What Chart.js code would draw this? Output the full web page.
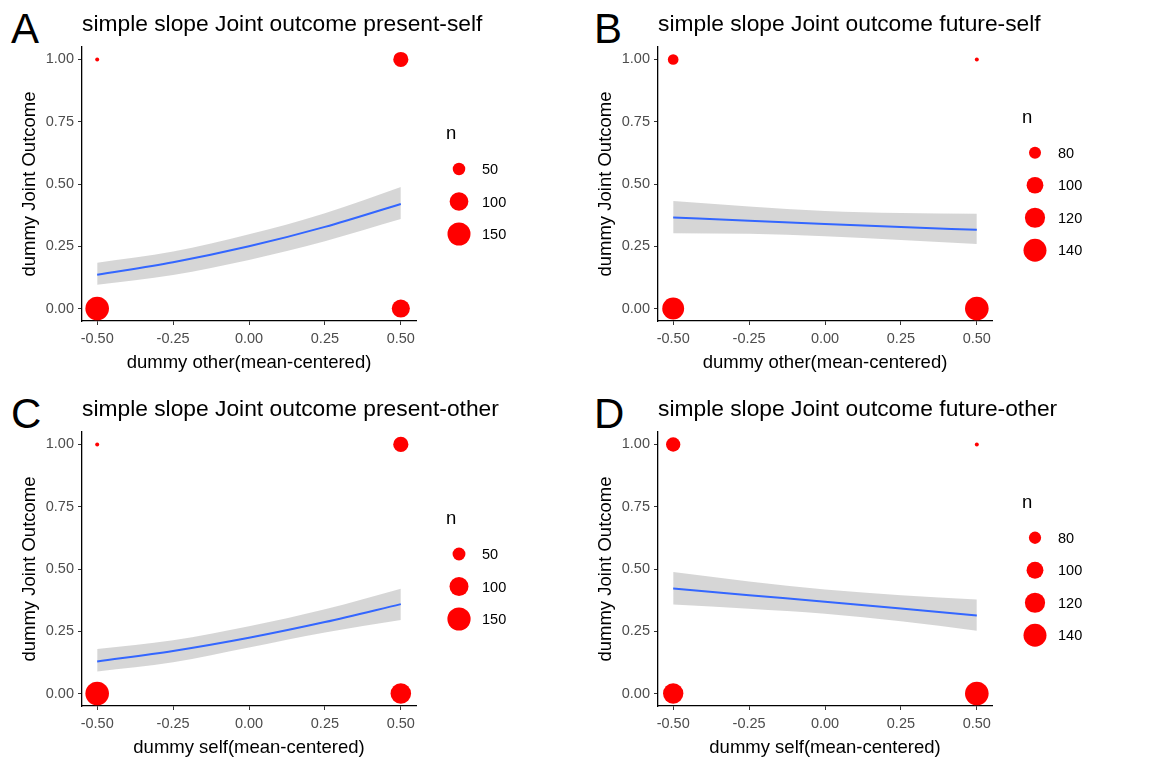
<!DOCTYPE html>
<html>
<head>
<meta charset="utf-8">
<script src="https://cdn.jsdelivr.net/npm/chart.js@4.4.1/dist/chart.umd.min.js"></script>
<style>
  body { margin: 0; background: #fff; width: 1155px; height: 760px; position: relative; overflow: hidden; }
  .panel { position: absolute; width: 577px; height: 375px; }
  .tag { position: absolute; font: 42px "Liberation Sans", Arial, sans-serif; line-height: 42px; color: #000; }
</style>
</head>
<body>
<div class="tag" style="left:11px;top:8px">A</div>
<div class="tag" style="left:594px;top:8px">B</div>
<div class="tag" style="left:11px;top:393px">C</div>
<div class="tag" style="left:594px;top:393px">D</div>
<div class="panel" style="left:0;top:0"><canvas id="chartA" width="577" height="375"></canvas></div>
<div class="panel" style="left:576px;top:0"><canvas id="chartB" width="577" height="375"></canvas></div>
<div class="panel" style="left:0;top:385px"><canvas id="chartC" width="577" height="375"></canvas></div>
<div class="panel" style="left:576px;top:385px"><canvas id="chartD" width="577" height="375"></canvas></div>

<script>
// shared axes
const xTicks = [-0.5, -0.25, 0, 0.25, 0.5];
const yTicks = [0, 0.25, 0.5, 0.75, 1];
const fitX = [-0.5, -0.25, 0, 0.25, 0.5];
const pointX = [-0.5, -0.5, 0.5, 0.5];
const pointY = [0, 1, 0, 1];
const yTitle = 'dummy Joint Outcome';

// A: present-self
const titleA = 'simple slope Joint outcome present-self';
const xTitleA = 'dummy other(mean-centered)';
const fitA = [0.136, 0.186, 0.250, 0.328, 0.420];
const lowA = [0.096, 0.135, 0.195, 0.270, 0.359];
const highA = [0.184, 0.229, 0.298, 0.383, 0.488];
const countA = [158, 25, 94, 68];
const breaksA = [50, 100, 150];

// B: future-self
const titleB = 'simple slope Joint outcome future-self';
const xTitleB = 'dummy other(mean-centered)';
const fitB = [0.366, 0.352, 0.339, 0.327, 0.316];
const lowB = [0.302, 0.300, 0.290, 0.275, 0.259];
const highB = [0.432, 0.410, 0.392, 0.384, 0.381];
const countB = [132, 76, 145, 67];
const breaksB = [80, 100, 120, 140];

// C: present-other
const titleC = 'simple slope Joint outcome present-other';
const xTitleC = 'dummy self(mean-centered)';
const fitC = [0.129, 0.171, 0.224, 0.287, 0.359];
const lowC = [0.089, 0.126, 0.185, 0.245, 0.295];
const highC = [0.179, 0.214, 0.270, 0.338, 0.421];
const countC = [155, 23, 117, 66];
const breaksC = [50, 100, 150];

// D: future-other
const titleD = 'simple slope Joint outcome future-other';
const xTitleD = 'dummy self(mean-centered)';
const fitD = [0.422, 0.395, 0.369, 0.341, 0.313];
const lowD = [0.357, 0.340, 0.320, 0.290, 0.252];
const highD = [0.488, 0.450, 0.418, 0.395, 0.378];
const countD = [121, 88, 145, 66];
const breaksD = [80, 100, 120, 140];

Chart.defaults.font.family = '"Liberation Sans", Arial, sans-serif';

function makePanel(id, title, xTitle, fit, low, high, counts, breaks) {
    const nMin = Math.min(...counts);
    const nMax = Math.max(...counts);
    // ggplot-like area scale
    const radius = n => 2 + 9.8 * Math.sqrt(Math.max(0, (n - nMin) / (nMax - nMin)));

    const titlePlugin = {
        id: 'panelTitle',
        afterDraw(chart) {
            const ctx = chart.ctx;
            const area = chart.chartArea;
            ctx.save();
            ctx.fillStyle = '#000';
            ctx.font = '22.8px "Liberation Sans", Arial, sans-serif';
            ctx.textAlign = 'left';
            ctx.textBaseline = 'alphabetic';
            ctx.fillText(title, area.left, 31);

            // size legend
            const step = 32.5;
            const block = 35 + (breaks.length - 1) * step;
            const cy = (area.top + area.bottom) / 2;
            const top = cy - block / 2;
            ctx.textBaseline = 'middle';
            ctx.font = '18.5px "Liberation Sans", Arial, sans-serif';
            ctx.fillText('n', area.right + 30, top);
            ctx.font = '14.5px "Liberation Sans", Arial, sans-serif';
            breaks.forEach((b, i) => {
                const y = top + 35 + i * step;
                ctx.fillStyle = '#ff0000';
                ctx.beginPath();
                ctx.arc(area.right + 43, y, radius(b), 0, Math.PI * 2);
                ctx.fill();
                ctx.fillStyle = '#000';
                ctx.fillText(String(b), area.right + 66, y + 1);
            });
            ctx.restore();
        }
    };

    new Chart(document.getElementById(id), {
        type: 'scatter',
        data: {
            datasets: [
                {
                    type: 'line',
                    data: fitX.map((x, i) => ({ x: x, y: low[i] })),
                    borderWidth: 0, pointRadius: 0, fill: false,
                    cubicInterpolationMode: 'monotone', order: 3
                },
                {
                    type: 'line',
                    data: fitX.map((x, i) => ({ x: x, y: high[i] })),
                    borderWidth: 0, pointRadius: 0, fill: '-1',
                    backgroundColor: 'rgba(153,153,153,0.4)',
                    cubicInterpolationMode: 'monotone', order: 3
                },
                {
                    type: 'line',
                    data: fitX.map((x, i) => ({ x: x, y: fit[i] })),
                    borderColor: '#3366FF', borderWidth: 2, pointRadius: 0, fill: false,
                    cubicInterpolationMode: 'monotone', order: 2
                },
                {
                    type: 'scatter',
                    data: pointX.map((x, i) => ({ x: x, y: pointY[i] })),
                    pointRadius: c => radius(counts[c.dataIndex]),
                    backgroundColor: '#ff0000', borderWidth: 0, order: 1
                }
            ]
        },
        options: {
            responsive: false,
            animation: false,
            events: [],
            layout: { padding: { left: 8, right: 161, top: 47, bottom: 0 } },
            plugins: { legend: { display: false }, tooltip: { enabled: false } },
            scales: {
                x: {
                    type: 'linear', min: -0.55, max: 0.55,
                    afterBuildTicks: s => { s.ticks = xTicks.map(v => ({ value: v })); },
                    afterFit: s => { s.height = 54; },
                    ticks: {
                        callback: v => v.toFixed(2), color: '#4d4d4d',
                        font: { size: 14.5 }, padding: 5, maxRotation: 0, autoSkip: false
                    },
                    grid: { drawOnChartArea: false, drawTicks: true, tickLength: 4, color: '#333' },
                    border: { display: true, color: '#000', width: 1.3 },
                    title: { display: true, text: xTitle, color: '#000', font: { size: 18.5 }, padding: { top: 0, bottom: 1 } }
                },
                y: {
                    type: 'linear', min: -0.05, max: 1.05,
                    afterBuildTicks: s => { s.ticks = yTicks.map(v => ({ value: v })); },
                    afterFit: s => { s.width = 74; },
                    ticks: { callback: v => v.toFixed(2), color: '#4d4d4d', font: { size: 14.5 }, padding: 4 },
                    grid: { drawOnChartArea: false, drawTicks: true, tickLength: 4, color: '#333' },
                    border: { display: true, color: '#000', width: 1.3 },
                    title: { display: true, text: yTitle, color: '#000', font: { size: 18.5 }, padding: { top: 11, bottom: 0 } }
                }
            }
        },
        plugins: [titlePlugin]
    });
}

makePanel('chartA', titleA, xTitleA, fitA, lowA, highA, countA, breaksA);
makePanel('chartB', titleB, xTitleB, fitB, lowB, highB, countB, breaksB);
makePanel('chartC', titleC, xTitleC, fitC, lowC, highC, countC, breaksC);
makePanel('chartD', titleD, xTitleD, fitD, lowD, highD, countD, breaksD);
</script>
</body>
</html>
